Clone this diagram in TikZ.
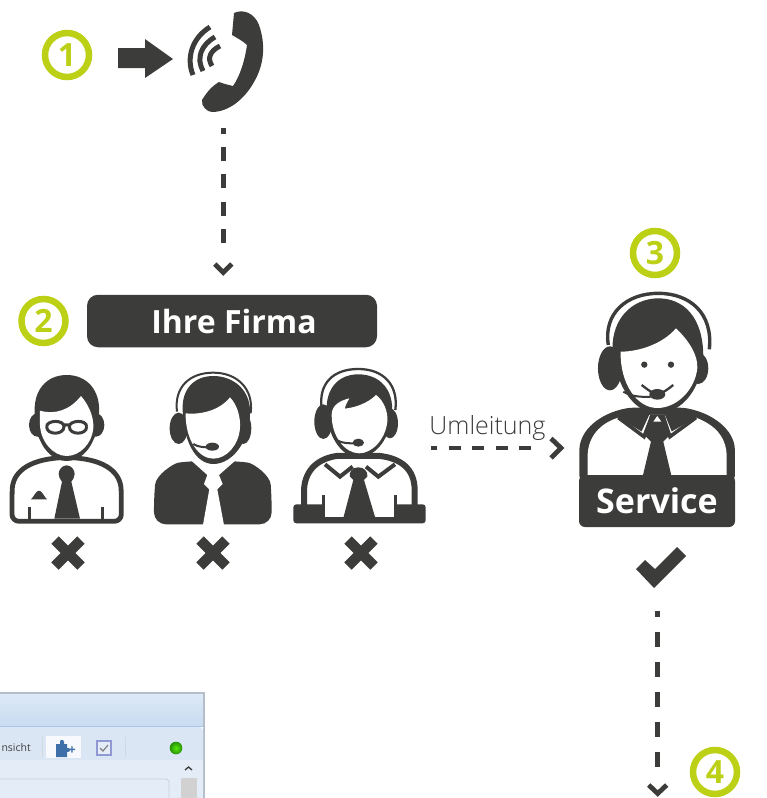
\documentclass[tikz,border=0pt]{standalone}
\usepackage{fontspec}
\setmainfont{Open Sans}
\newfontfamily\lightfont{Open Sans Light}
\usetikzlibrary{calc}
\definecolor{ink}{HTML}{3C3C3B}
\definecolor{lime}{HTML}{BCD016}
\definecolor{winA}{HTML}{DDE9F6}
\definecolor{winB}{HTML}{C8DCF1}
\definecolor{winC}{HTML}{E3ECF7}
\definecolor{winD}{HTML}{DAE6F4}
\definecolor{winLine}{HTML}{B4BECA}
\definecolor{winEdge}{HTML}{A9C6E6}
\definecolor{puzz}{HTML}{3F6FA8}
\tikzset{
  badge/.style={circle,draw=lime,line width=6.5pt,minimum size=44pt,inner sep=0pt,text=lime,font=\fontsize{32}{32}\bfseries\selectfont},
  flowA/.style={ink,line width=4.7pt,dash pattern=on 14pt off 13.2pt,dash phase=8pt},
  flowB/.style={ink,line width=4.7pt,dash pattern=on 15pt off 15pt,dash phase=9pt},
  flowC/.style={ink,line width=4.7pt,dash pattern=on 12pt off 11.6pt,dash phase=6pt},
  chevron/.style={ink,line width=4.8pt,miter limit=10},
  cross/.style={ink,line width=10.5pt},
  tone/.style={fill=ink,draw=none},
  blank/.style={fill=white,draw=none},
}
\begin{document}
\begin{tikzpicture}[x=1pt,y=-1pt]
\useasboundingbox (0,0) rectangle (767,798);
\clip (0,0) rectangle (767,798);
%%% screenshot
\fill[top color=winA,bottom color=winB] (-5,693) rectangle (204,726);
\draw[winLine,line width=1.2pt] (-5,693) -- (204,693) -- (204,798);
\fill[winD] (-5,727) -- (200,727) [rounded corners=2pt]-- (203,729) -- (203,798) -- (-5,798) -- cycle;
\draw[winEdge,line width=1pt] (-5,726.5) -- (203,726.5);
\fill[winC] (-5,760) rectangle (203,798);
\draw[winLine!70,line width=0.8pt,rounded corners=3pt] (-5,779) -- (169,779) -- (169,798);
\node[anchor=east,inner sep=0pt,text=black!75,font=\fontsize{10.5}{12}\selectfont] (ansicht) at (31,748) {nsicht};
\fill[white!70!winC] (46,736) rectangle (81,758);
\draw[winLine!60,line width=.7pt] (42,737) -- (42,757) (125,737) -- (125,757);
\fill[puzz] (56,744) -- (60,744) -- (60,741) .. controls (62,738) and (65,741) .. (64,744) -- (67,744) -- (67,748) -- (69,748) .. controls (71,750) and (70,752) .. (67,752) -- (67,757) -- (56,757) -- cycle;
\node[inner sep=0pt,text=puzz,font=\fontsize{13}{13}\bfseries\selectfont] (plus) at (72,751) {+};
\draw[winLine!80!blue,line width=1.2pt,fill=winC] (97,741) rectangle (111,755);
\draw[gray,line width=1.2pt] (100,748) -- (103,751) -- (108,745);
\shade[inner color=green!55!lime,outer color=green!50!black!80!lime] (176,748) circle (6.3);
\fill[black!18] (181,778) rectangle (197,798);
\draw[ink,line width=1.3pt] (185,770) -- (188.5,767) -- (192,770);
%%% step 1
\node[badge] (one) at (67,55) {1};
\fill[ink] (118,48) -- (145,48) -- (145,39) -- (173,59) -- (145,78) -- (145,68) -- (118,68) -- cycle;
\coordinate (phone) at (223.3,128);
\fill[ink] (234,13) .. controls (242,9) and (254,12) .. (259,25) .. controls (266,45) and (264,65) .. (254,82)
  .. controls (244,100) and (228,112) .. (212,112) .. controls (207,112) and (201,106) .. (202,100)
  .. controls (207,92) and (212,86) .. (219,82) .. controls (224,84) and (229,85) .. (233,86)
  .. controls (240,76) and (245,60) .. (247,45) .. controls (243,41) and (237,38) .. (232,35) -- cycle;
\draw[ink,line width=5pt] (210,27) .. controls (192,38) and (186,58) .. (193,75);
\draw[ink,line width=5pt] (215,37) .. controls (201,45) and (196,58) .. (203,71);
\draw[ink,line width=5pt] (220,46) .. controls (210,51) and (207,58) .. (212,66);
%%% step 2
\node[badge] (two) at (43.5,321) {2};
\node[fill=ink,rounded corners=11pt,minimum width=290pt,minimum height=52.5pt,inner sep=0pt,text=white,font=\fontsize{32}{36}\bfseries\selectfont] (firma) at (232,321) {\hspace{4pt}Ihre Firma};
\coordinate (firmain) at (223.3,254);
\draw[flowA] (phone) -- (firmain);
\draw[chevron] ($(firmain)+(-8.5,10)$) -- ($(firmain)+(0,18.5)$) -- ($(firmain)+(8.5,10)$);
%%% person 1
\begin{scope}[shift={(0,360)},x=.3333pt,y=-.3333pt]
\draw[ink,fill=white,line width=4.8pt,rounded corners=7pt] (36,484) -- (36,410) .. controls (38,340) and (80,300) .. (200,292) .. controls (320,300) and (362,340) .. (364,410) -- (364,484) -- cycle;
\draw[ink,line width=3pt] (90,442) -- (90,478) (308,442) -- (308,478);
\fill[tone] (200,316) .. controls (214,316) and (224,330) .. (224,342) .. controls (224,352) and (218,360) .. (214,365) -- (240,476) -- (163,476) -- (186,365) .. controls (180,358) and (176,350) .. (176,342) .. controls (176,330) and (186,316) .. (200,316);
\fill[tone] (93,418) .. controls (102,410) and (108,392) .. (117,392) .. controls (126,392) and (132,410) .. (141,418) -- cycle;
\fill[tone] (112,195) ellipse [x radius=25,y radius=35];
\fill[tone] (288,195) ellipse [x radius=25,y radius=35];
\fill[tone] (104,160) .. controls (100,90) and (140,45) .. (200,45) .. controls (260,45) and (302,90) .. (297,160) .. controls (296,200) and (290,225) .. (280,240) .. controls (268,270) and (240,303) .. (200,303) .. controls (160,303) and (132,270) .. (120,240) .. controls (110,225) and (104,200) .. (104,160);
\fill[blank] (120,152) .. controls (165,165) and (210,150) .. (243,108) .. controls (262,130) and (282,165) .. (280,205) .. controls (276,250) and (240,288) .. (200,288) .. controls (160,288) and (122,245) .. (120,195) -- cycle;
\draw[ink,line width=3pt] (140,200) .. controls (140,180) and (192,178) .. (192,200) .. controls (192,226) and (140,226) .. (140,200) (260,200) .. controls (260,178) and (208,180) .. (208,200) .. controls (208,226) and (260,226) .. (260,200) (190,195) -- (210,195);
\end{scope}
%%% person 2
\begin{scope}[shift={(0,360)},x=.3333pt,y=-.3333pt]
\fill[tone,rounded corners=12pt] (462,493) -- (462,410) .. controls (468,345) and (520,310) .. (572,303) -- (708,303) .. controls (760,310) and (810,345) .. (815,410) -- (815,493) -- cycle;
\fill[blank] (572,300) -- (622,345) -- (612,372) -- (628,388) -- (609,495) -- (672,495) -- (652,388) -- (668,372) -- (657,345) -- (708,300) -- cycle;
\draw[ink,line width=2pt] (531,155) .. controls (522,80) and (570,38) .. (640,38) .. controls (710,38) and (762,85) .. (752,160);
\fill[tone] (536,205) ellipse [x radius=27,y radius=47];
\fill[tone] (730,205) ellipse [x radius=24,y radius=47];
\fill[tone] (548,150) .. controls (545,85) and (585,48) .. (640,48) .. controls (700,48) and (755,90) .. (750,165) .. controls (748,240) and (700,312) .. (640,312) .. controls (585,312) and (550,240) .. (548,150);
\fill[blank] (557,160) .. controls (605,165) and (660,150) .. (690,112) .. controls (712,135) and (722,170) .. (720,205) .. controls (716,255) and (680,296) .. (640,296) .. controls (596,296) and (556,240) .. (557,160);
\draw[ink,line width=2pt] (580,252) .. controls (595,262) and (615,262) .. (630,262);
\fill[tone] (637,260) ellipse [x radius=20,y radius=12];
\end{scope}
%%% person 3
\begin{scope}[shift={(290,280)},x=.3333pt,y=-.3333pt]
\draw[ink,fill=white,line width=6pt] (42,690) -- (42,630) .. controls (45,565) and (90,535) .. (140,528) -- (270,528) .. controls (330,535) and (374,565) .. (374,630) -- (374,690) -- cycle;
\draw[ink,line width=4pt] (105,553) -- (150,590) -- (188,560) (228,560) -- (265,590) -- (315,553);
\fill[tone,rounded corners=3pt] (10,673) rectangle (407,730);
\fill[blank] (104,660) rectangle (312,712);
\draw[ink,line width=3pt] (100,645) -- (100,680) (317,645) -- (317,680);
\fill[tone] (205,562) .. controls (222,562) and (235,575) .. (232,590) -- (222,600) -- (256,714) -- (160,714) -- (190,600) -- (180,590) .. controls (176,575) and (188,562) .. (205,562);
\draw[ink,line width=2.3pt] (95,385) .. controls (85,310) and (130,267) .. (205,267) .. controls (280,267) and (326,315) .. (316,390);
\fill[tone] (100,425) ellipse [x radius=27,y radius=52];
\fill[tone] (300,430) ellipse [x radius=24,y radius=45];
\fill[tone] (110,400) .. controls (105,320) and (150,283) .. (205,283) .. controls (270,283) and (312,330) .. (306,400) .. controls (302,470) and (260,532) .. (205,532) .. controls (155,532) and (115,470) .. (110,400);
\fill[blank] (125,405) .. controls (125,375) and (150,362) .. (178,355) .. controls (170,370) and (165,378) .. (165,386) .. controls (200,382) and (235,368) .. (258,345) .. controls (280,360) and (295,395) .. (292,425) .. controls (286,480) and (245,520) .. (208,520) .. controls (165,520) and (125,470) .. (125,405);
\draw[ink,line width=2pt] (140,480) .. controls (155,490) and (175,490) .. (195,490);
\fill[tone] (205,488) ellipse [x radius=17,y radius=12];
\end{scope}
%%% crosses
\draw[cross] (55,540) -- (81,566) (55,566) -- (81,540);
\draw[cross] (200,540) -- (226,566) (200,566) -- (226,540);
\draw[cross] (348,540) -- (374,566) (348,566) -- (374,540);
%%% Umleitung
\node[inner sep=0pt,anchor=base,text=ink,font=\lightfont\fontsize{25}{27}\selectfont] (umleitung) at (487.5,434) {Umleitung};
\coordinate (redirA) at (431,448);
\coordinate (redirB) at (542,448);
\draw[flowC] (redirA) -- (redirB);
\draw[chevron] ($(redirB)+(9,-9.5)$) -- ($(redirB)+(19,0)$) -- ($(redirB)+(9,10)$);
%%% step 3
\node[badge] (three) at (655,253) {3};
\begin{scope}[shift={(290,280)},x=.3333pt,y=-.3333pt]
\fill[tone,rounded corners=4pt] (868,600) -- (868,520) .. controls (870,450) and (930,400) .. (1020,383) -- (1180,383) .. controls (1270,400) and (1333,450) .. (1335,520) -- (1335,600) -- cycle;
\fill[blank] (893,590) -- (893,525) .. controls (895,470) and (930,430) .. (985,413) -- (1055,455) -- (1078,405) -- (1125,405) -- (1145,455) -- (1218,413) .. controls (1275,435) and (1308,470) .. (1310,525) -- (1310,590) -- cycle;
\draw[ink,line width=3.6pt] (985,413) -- (1062,470) -- (1085,410) (1120,410) -- (1140,470) -- (1218,413);
\fill[tone] (1080,405) -- (1125,405) -- (1135,470) -- (1120,485) -- (1145,590) -- (1058,590) -- (1083,485) -- (1068,470) -- cycle;
\fill[white] (1090,425) -- (1102,408) -- (1114,425) -- cycle;
\draw[ink,line width=3.4pt] (955,195) .. controls (940,100) and (1010,40) .. (1105,40) .. controls (1200,40) and (1270,100) .. (1258,208);
\fill[tone] (960,265) ellipse [x radius=36,y radius=66];
\fill[tone] (1225,265) ellipse [x radius=30,y radius=47];
\fill[tone] (968,190) .. controls (975,100) and (1040,55) .. (1105,55) .. controls (1180,55) and (1240,110) .. (1240,230) .. controls (1235,320) and (1180,400) .. (1102,400) .. controls (1030,400) and (970,310) .. (968,190);
\fill[blank] (992,215) .. controls (1050,215) and (1120,190) .. (1158,145) .. controls (1195,180) and (1225,225) .. (1222,265) .. controls (1215,330) and (1160,384) .. (1102,384) .. controls (1040,384) and (990,310) .. (992,215);
\fill[tone] (1063,254) circle (9.5);
\fill[tone] (1143,254) circle (9.5);
\draw[ink,line width=2.3pt] (1055,315) .. controls (1075,330) and (1085,340) .. (1102,340) .. controls (1120,340) and (1130,330) .. (1150,315);
\draw[ink,line width=2pt] (1000,335) .. controls (1025,350) and (1055,352) .. (1085,350);
\fill[tone] (1102,343) ellipse [x radius=24,y radius=16];
\end{scope}
\node[fill=ink,rounded corners=6pt,minimum width=156pt,minimum height=52pt,inner sep=0pt,text=white,font=\fontsize{34}{36}\bfseries\selectfont] (service) at (657,501) {Service};
\fill[ink] (636,569) -- (645,560) -- (655,569) -- (677,547) -- (686,556) -- (654,588) -- cycle;
\coordinate (okA) at (657.7,611);
\node[badge] (four) at (715,772) {4};
\coordinate (okB) at (657.7,775);
\draw[flowB] (okA) -- (okB);
\draw[chevron] ($(okB)+(-9,10)$) -- ($(okB)+(0,18.5)$) -- ($(okB)+(9,10)$);
\end{tikzpicture}
\end{document}
